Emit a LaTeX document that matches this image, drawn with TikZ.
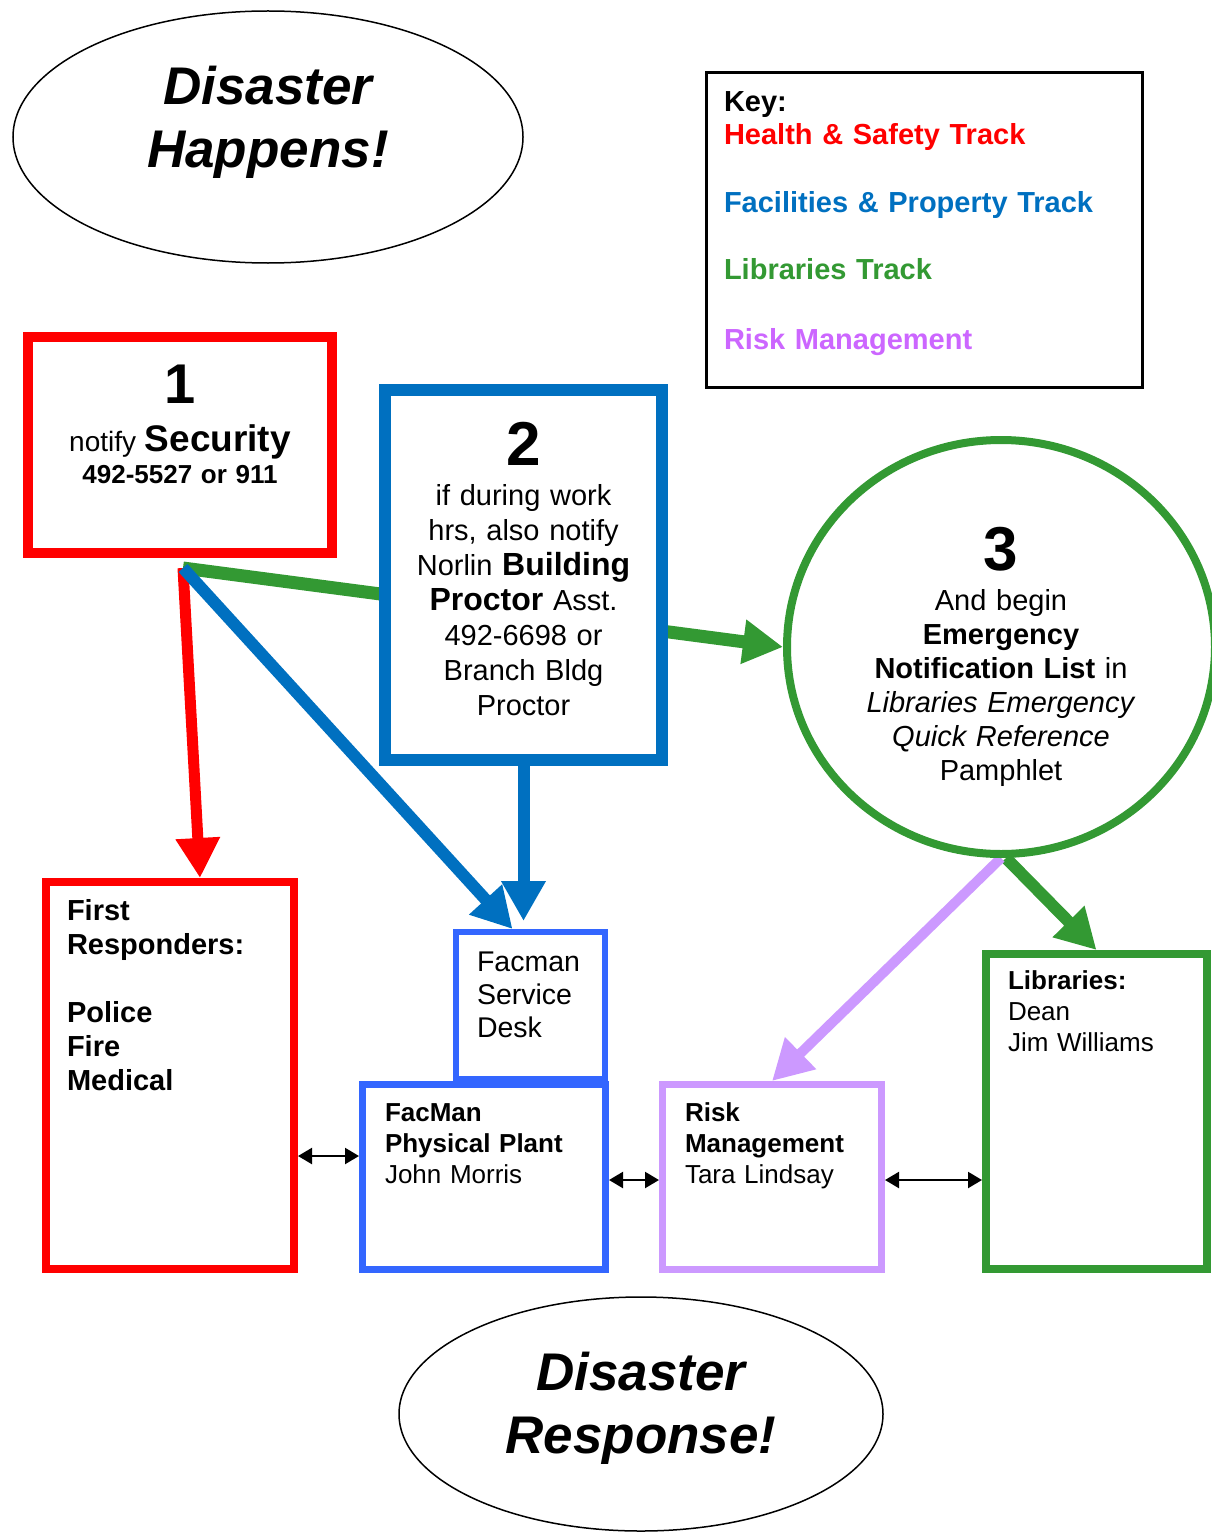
\documentclass[tikz,border=0pt]{standalone}
\usepackage{fontspec}
\setmainfont{Liberation Sans}
\usepackage{xcolor}
\usetikzlibrary{shapes.geometric,arrows.meta,positioning,calc,backgrounds}
\definecolor{hsred}{HTML}{FF0000}
\definecolor{fpblue}{HTML}{0070C0}
\definecolor{fmblue}{HTML}{3366FF}
\definecolor{libgreen}{HTML}{339933}
\definecolor{rmviolet}{HTML}{CC99FF}
\definecolor{rmtext}{HTML}{CC66FF}

\begin{document}
\begin{tikzpicture}[x=1pt, y=-1pt,
    oval/.style={ellipse, draw, line width=1.5pt, fill=white, inner sep=0pt, text width=300pt, align=center,
        font=\fontsize{53}{63}\selectfont\bfseries\itshape},
    box/.style={rectangle, draw, fill=white, inner sep=0pt},
    bigarr/.style={-{Triangle[length=40pt, width=42pt]}},
    link/.style={{Triangle[length=14pt, width=16pt]}-{Triangle[length=14pt, width=16pt]}, line width=2.2pt}
]
\useasboundingbox (0,0) rectangle (1211,1533);
\node[oval, minimum width=510pt, minimum height=252pt, text height=40pt, text depth=104pt] (happen) at (268,137) {Disaster\\ Happens!};
\node[box, draw=black, line width=3pt, inner xsep=17.5pt, text width=401pt, align=left,
      text height=39.5pt, text depth=275.5pt, font=\fontsize{29}{33}\selectfont\bfseries] (key) at (924.5,230)
  {Key:\\ \textcolor{hsred}{Health \& Safety Track}\\[35pt]
   \textcolor{fpblue}{Facilities \& Property Track}\\[34pt]
   \textcolor{libgreen}{Libraries Track}\\[37pt]
   \textcolor{rmtext}{Risk Management}};
\node[box, draw=hsred, line width=10pt, text width=304pt, align=center,
      text height=66pt, text depth=150pt, font=\fontsize{26}{32}\selectfont] (sec) at (180,445)
  {{\fontsize{56}{56}\selectfont\bfseries 1}\\[16pt]
   {\fontsize{28}{32}\selectfont notify} {\fontsize{37}{32}\selectfont\bfseries Security}\\
   \bfseries 492-5527 or 911};
\node[box, draw=fpblue, line width=12pt, text width=277pt, align=center,
      text height=75pt, text depth=295pt, font=\fontsize{29}{35}\selectfont] (proctor) at (523.5,575)
  {{\fontsize{62}{62}\selectfont\bfseries 2}\\[5pt]
   if during work\\ hrs, also notify\\ Norlin {\fontsize{32}{35}\selectfont\bfseries Building}\\
   {\fontsize{32}{35}\selectfont\bfseries Proctor} Asst.\\ 492-6698 or\\ Branch Bldg\\ Proctor};
\node[ellipse, draw=libgreen, line width=8pt, fill=white, inner sep=0pt, minimum width=428pt, minimum height=414pt,
      text width=290pt, align=center, text height=50pt, text depth=204pt,
      font=\fontsize{29}{34}\selectfont] (notif) at (1001,647)
  {{\fontsize{62}{62}\selectfont\bfseries 3}\\[6pt]
   And begin\\ \textbf{Emergency}\\ \textbf{Notification List} in\\
   \textit{Libraries Emergency}\\ \textit{Quick Reference}\\ Pamphlet};
\node[box, draw=hsred, line width=8pt, inner xsep=21pt, text width=206pt, align=left,
      text height=38pt, text depth=349pt, font=\fontsize{29}{34}\selectfont\bfseries] (resp) at (170,1075.5)
  {First\\ Responders:\\[34pt] Police\\ Fire\\ Medical};
\node[box, draw=fmblue, line width=6pt, inner xsep=21pt, text width=107pt, align=left,
      text height=39pt, text depth=108pt, font=\fontsize{28.5}{33}\selectfont] (desk) at (530.5,1005.5)
  {Facman\\ Service\\ Desk};
\node[box, draw=fmblue, line width=7pt, inner xsep=22.5pt, text width=198pt, align=left,
      text height=36.5pt, text depth=148.5pt, font=\fontsize{26}{31}\selectfont] (plant) at (484,1177)
  {\textbf{FacMan}\\ \textbf{Physical Plant}\\ John Morris};
\node[box, draw=rmviolet, line width=7pt, inner xsep=22.5pt, text width=174pt, align=left,
      text height=36.5pt, text depth=148.5pt, font=\fontsize{26}{31}\selectfont] (risk) at (772,1177)
  {\textbf{Risk}\\ \textbf{Management}\\ Tara Lindsay};
\node[box, draw=libgreen, line width=8pt, inner xsep=22pt, text width=177pt, align=left,
      text height=35pt, text depth=280pt, font=\fontsize{26}{31}\selectfont] (lib) at (1096.5,1111.5)
  {\textbf{Libraries:}\\ Dean\\ Jim Williams};
\node[oval, minimum width=484pt, minimum height=234pt, text height=40pt, text depth=88pt] (outcome) at (641,1414) {Disaster\\ Response!};
\coordinate (hub) at ([xshift=3pt, yshift=-10pt]sec.south);
\begin{scope}[on background layer]
\draw[bigarr, libgreen, line width=13pt] (hub) -- (notif.west);
\draw[bigarr, hsred, line width=11pt] (hub) -- ([xshift=30pt]resp.north);
\draw[bigarr, fpblue, line width=12pt] (hub) -- ([xshift=-18pt]desk.north);
\draw[bigarr, fpblue, line width=12pt, shorten >=8pt] (proctor.south) -- (proctor.south |- desk.north);
\draw[bigarr, libgreen, line width=12pt] ([xshift=5pt]notif.south) -- (lib.north);
\draw[bigarr, rmviolet, line width=10pt] (notif.south) -- (risk.north);
\draw[link] ([yshift=-80.5pt]resp.east) -- ([yshift=21pt]plant.west);
\draw[link] ([yshift=-3pt]plant.east) -- ([yshift=-3pt]risk.west);
\draw[link] ([yshift=-3pt]risk.east) -- ([yshift=-68.5pt]lib.west);
\end{scope}
\end{tikzpicture}
\end{document}
